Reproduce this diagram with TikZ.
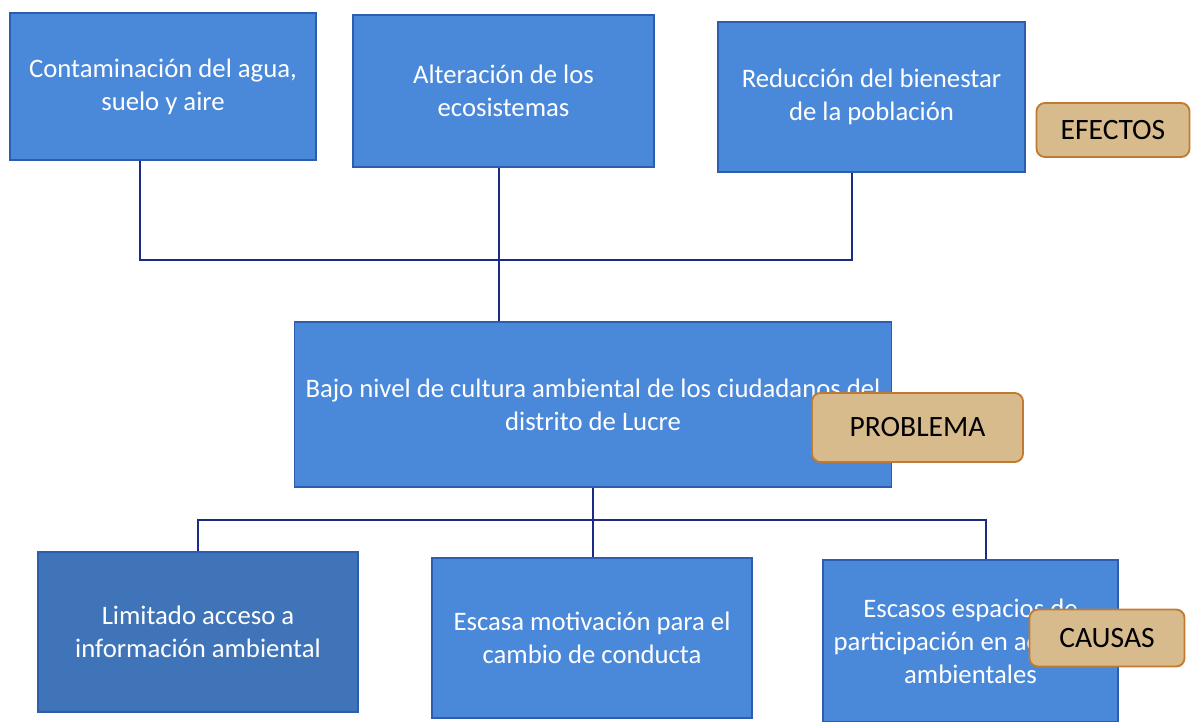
\documentclass[tikz,border=0pt]{standalone}
\usepackage{fontspec}
\setmainfont{Carlito}
\usetikzlibrary{positioning}
\definecolor{boxblue}{HTML}{4A88DA}
\definecolor{edgeblue}{HTML}{2C5DAE}
\definecolor{linknavy}{HTML}{1A2A86}
\definecolor{tagfill}{HTML}{D8BB8C}
\definecolor{tagedge}{HTML}{C27A30}

\begin{document}
\begin{tikzpicture}[x=0.025cm, y=-0.025cm]
\tikzstyle{block} = [rectangle, inner sep=2pt, align=center, fill=boxblue, draw=edgeblue, line width=0.8pt, text=white, font=\fontsize{19}{23.5}\selectfont]
\tikzstyle{tag} = [rectangle, rounded corners=6pt, text centered, fill=tagfill, draw=tagedge, line width=1.3pt, font=\fontsize{21}{24}\selectfont]
\tikzstyle{link} = [draw=linknavy, line width=1.8pt]

\useasboundingbox (0,0) rectangle (1196,722);

% efectos
\node (contaminacion) [block, minimum width=7.65cm, minimum height=3.675cm] at (163,86.5) {Contaminación del agua,\\suelo y aire};
\node (alteracion) [block, minimum width=7.525cm, minimum height=3.8cm] at (503.5,91) {Alteración de los\\ecosistemas};
\node (reduccion) [block, minimum width=7.675cm, minimum height=3.75cm] at (871.5,97) {Reducción del bienestar\\de la población};

% problema
\node (bajonivel) [block, minimum width=14.9cm, minimum height=4.125cm] at (593,404.5) {Bajo nivel de cultura ambiental de los ciudadanos del\\distrito de Lucre};

% causas
\node (limitado) [block, fill=boxblue!85!black, minimum width=8cm, minimum height=4cm] at (198,632) {Limitado acceso a\\información ambiental};
\node (escasa) [block, minimum width=8cm, minimum height=4cm] at (592,638) {Escasa motivación para el\\cambio de conducta};
\node (espacios) [block, minimum width=7.375cm, minimum height=4.05cm] at (970.5,641) {Escasos espacios de\\participación en acciones\\ambientales};

% etiquetas
\node (efectos) [tag, minimum width=3.825cm, minimum height=1.35cm] at (1113,130) {EFECTOS};
\node (problema) [tag, minimum width=5.275cm, minimum height=1.725cm] at (917.5,427.5) {PROBLEMA};
\node (causas) [tag, minimum width=3.875cm, minimum height=1.425cm] at (1107,638) {CAUSAS};

% conectores
\coordinate (topleft) at (140,260);
\coordinate (topmid) at (499,260);
\coordinate (topright) at (852,260);
\coordinate (botleft) at (198,520);
\coordinate (botmid) at (593,520);
\coordinate (botright) at (986,520);

\draw [link] (contaminacion.south -| topleft) -- (topleft) -- (topright) -- (reduccion.south -| topright);
\draw [link] (alteracion.south -| topmid) -- (bajonivel.north -| topmid);
\draw [link] (limitado.north -| botleft) -- (botleft) -- (botright) -- (espacios.north -| botright);
\draw [link] (bajonivel.south -| botmid) -- (escasa.north -| botmid);

\end{tikzpicture}
\end{document}
